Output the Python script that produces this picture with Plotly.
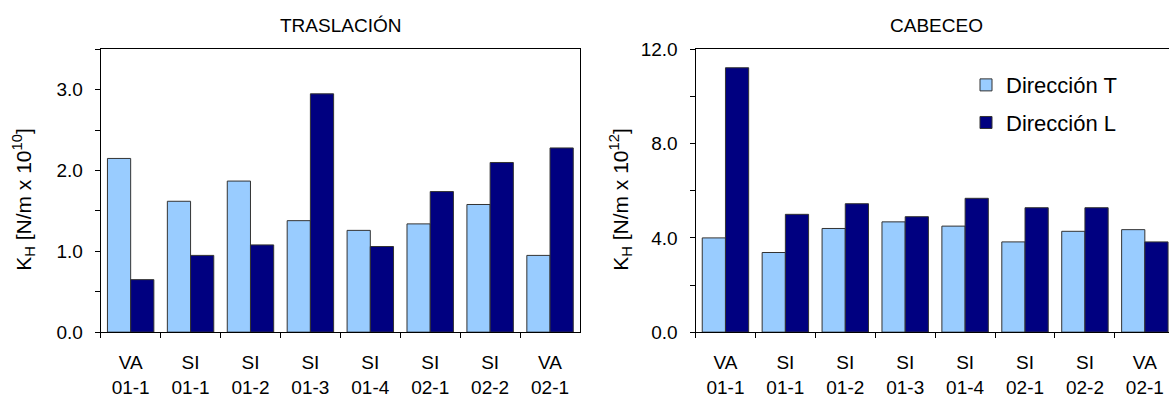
import plotly.graph_objects as go

categories = ["VA<br>01-1", "SI<br>01-1", "SI<br>01-2", "SI<br>01-3",
              "SI<br>01-4", "SI<br>02-1", "SI<br>02-2", "VA<br>02-1"]

# TRASLACIÓN  [N/m x 10^10]
tras_T = [2.15, 1.62, 1.87, 1.38, 1.26, 1.34, 1.58, 0.95]
tras_L = [0.65, 0.95, 1.08, 2.95, 1.06, 1.74, 2.10, 2.28]

# CABECEO  [N/m x 10^12]
cab_T = [4.00, 3.38, 4.40, 4.68, 4.50, 3.83, 4.28, 4.35]
cab_L = [11.22, 5.00, 5.45, 4.90, 5.68, 5.28, 5.28, 3.83]

title_left = "TRASLACIÓN"
title_right = "CABECEO"
ylab_left = "K<sub>H</sub> [N/m x 10<sup>10</sup>]"
ylab_right = "K<sub>H</sub> [N/m x 10<sup>12</sup>]"
name_T = "Dirección T"
name_L = "Dirección L"

W, H = 1169, 411
C_T = "#99CCFF"
C_L = "#000080"
FONT = "Liberation Sans, Arial, sans-serif"

fig = go.Figure()
line = dict(color="#333333", width=1)
fig.add_trace(go.Bar(x=categories, y=tras_T, marker=dict(color=C_T, line=line),
                     name=name_T, showlegend=False, xaxis="x", yaxis="y"))
fig.add_trace(go.Bar(x=categories, y=tras_L, marker=dict(color=C_L, line=line),
                     name=name_L, showlegend=False, xaxis="x", yaxis="y"))
fig.add_trace(go.Bar(x=categories, y=cab_T, marker=dict(color=C_T, line=line),
                     name=name_T, legendgroup="T", xaxis="x2", yaxis="y2"))
fig.add_trace(go.Bar(x=categories, y=cab_L, marker=dict(color=C_L, line=line),
                     name=name_L, legendgroup="L", xaxis="x2", yaxis="y2"))

y0 = (H - 339.5) / H
y1 = (H - 41.5) / H
xl0, xl1 = 100.7 / W, 580 / W
xr0 = 695.5 / W
pxcat = (580 - 100.7) / 8
r_end = -0.5 + (W - 695.5) / pxcat

TS = 19
tickfont = dict(family=FONT, size=TS, color="black")
xcommon = dict(type="category", showline=True, linecolor="black", linewidth=1,
               ticks="outside", ticklen=5, tickcolor="black", tickson="boundaries",
               tickfont=tickfont, showgrid=False, zeroline=False, ticklabelstandoff=13)
ycommon = dict(showline=True, linecolor="black", linewidth=1, ticks="outside",
               ticklen=5, tickcolor="black", tickfont=tickfont, tickformat=".1f",
               showgrid=False, zeroline=False, ticklabelstandoff=8)

ann_font = dict(family=FONT, size=19, color="black")
ylab_font = dict(family=FONT, size=21, color="black")
fig.update_layout(
    width=W, height=H,
    margin=dict(l=0, r=0, t=0, b=0),
    paper_bgcolor="white", plot_bgcolor="white",
    barmode="group", bargap=0.225, bargroupgap=0,
    font=dict(family=FONT, color="black"),
    xaxis=dict(domain=[xl0, xl1], anchor="y", range=[-0.5, 7.5], mirror=True, **xcommon),
    yaxis=dict(domain=[y0, y1], anchor="x", range=[0, 3.5], dtick=1, tick0=0, mirror=True,
               minor=dict(dtick=0.5, tick0=0, ticks="outside", ticklen=5, tickcolor="black"),
               **ycommon),
    xaxis2=dict(domain=[xr0, 1.0], anchor="y2", range=[-0.5, r_end], mirror=True, **xcommon),
    yaxis2=dict(domain=[y0, y1], anchor="x2", range=[0, 12], dtick=4, tick0=0, mirror=False,
                minor=dict(dtick=2, tick0=0, ticks="outside", ticklen=5, tickcolor="black"),
                **ycommon),
    legend=dict(x=966 / W, y=(H - 57) / H, xanchor="left", yanchor="top",
                font=dict(family=FONT, size=22, color="black"),
                bgcolor="rgba(0,0,0,0)", tracegroupgap=6, traceorder="grouped"),
    annotations=[
        dict(text=title_left, x=340.5 / W, y=(H - 16) / H, xref="paper", yref="paper",
             xanchor="center", yanchor="middle", showarrow=False, font=ann_font),
        dict(text=title_right, x=936 / W, y=(H - 16) / H, xref="paper", yref="paper",
             xanchor="center", yanchor="middle", showarrow=False, font=ann_font),
        dict(text=ylab_left, x=24 / W, y=(H - 200) / H, xref="paper", yref="paper",
             xanchor="center", yanchor="middle",
             textangle=-90, showarrow=False, font=ylab_font),
        dict(text=ylab_right, x=621 / W, y=(H - 200) / H, xref="paper", yref="paper",
             xanchor="center", yanchor="middle",
             textangle=-90, showarrow=False, font=ylab_font),
    ],
)

fig.write_html("out.html")
